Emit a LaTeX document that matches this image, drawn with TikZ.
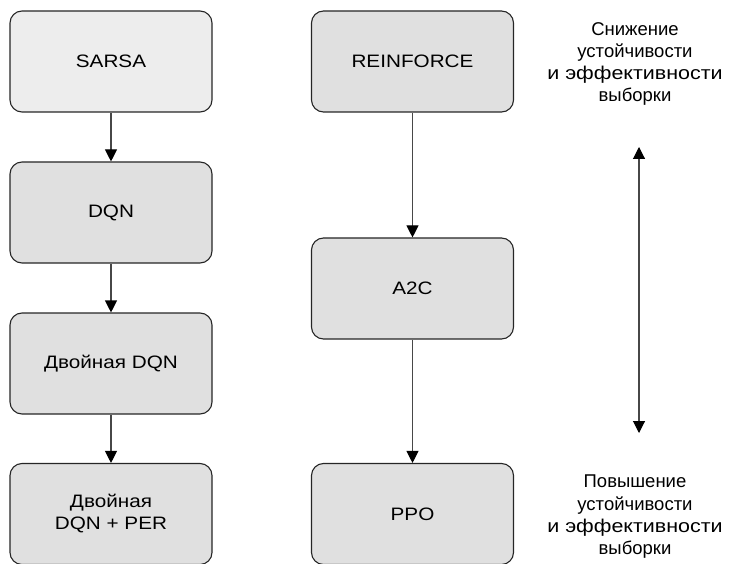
\documentclass[tikz,border=0pt]{standalone}
\usepackage{fontspec}
\setmainfont{Liberation Sans}
\newfontfamily\boxfont[FakeStretch=1.15]{Liberation Sans}
\newfontfamily\widefont[FakeStretch=1.16]{Liberation Sans}
\usetikzlibrary{arrows.meta}
\begin{document}
\begin{tikzpicture}[x=1pt,y=-1pt,
  algbox/.style={draw=black!85, line width=1.1pt, rounded corners=12pt,
    fill=black!12, minimum width=202pt, minimum height=101pt,
    align=center, font=\boxfont\fontsize{18}{22}\selectfont, inner sep=0pt},
  lightbox/.style={algbox, fill=black!7},
  flow/.style={draw=black!72, line width=1.1pt, -{Triangle[width=12pt,length=12pt,color=black]}},
  both/.style={draw=black!72, line width=1.1pt,
    {Triangle[width=12pt,length=12pt,color=black]}-{Triangle[width=12pt,length=12pt,color=black]}},
  note/.style={align=center, font=\fontsize{18.5}{22.3}\selectfont, inner sep=0pt}]
  \useasboundingbox (0,0) rectangle (731,564);

  % value-based family
  \node[lightbox] (sarsa) at (111,61.5) {SARSA};
  \node[algbox] (dqn) at (111,212.5) {DQN};
  \node[algbox] (ddqn) at (111,363.5) {Двойная DQN};
  \node[algbox] (per) at (111,514) {Двойная\\DQN + PER};

  % policy-based family
  \node[algbox] (reinforce) at (412.5,61.5) {REINFORCE};
  \node[algbox] (a2c) at (412.5,288.5) {A2C};
  \node[algbox] (ppo) at (412.5,514) {PPO};

  \draw[flow] (sarsa) -- (dqn);
  \draw[flow] (dqn) -- (ddqn);
  \draw[flow] (ddqn) -- (per);
  \draw[flow] (reinforce) -- (a2c);
  \draw[flow] (a2c) -- (ppo);

  % stability scale
  \node[note] (low) at (635,64) {Снижение\\устойчивости\\{\widefont и эффективности}\\выборки};
  \node[note] (high) at (635,517) {Повышение\\устойчивости\\{\widefont и эффективности}\\выборки};
  \coordinate (top) at (639,147);
  \coordinate (bottom) at (639,433);
  \draw[both] (top) -- (bottom);
\end{tikzpicture}
\end{document}
